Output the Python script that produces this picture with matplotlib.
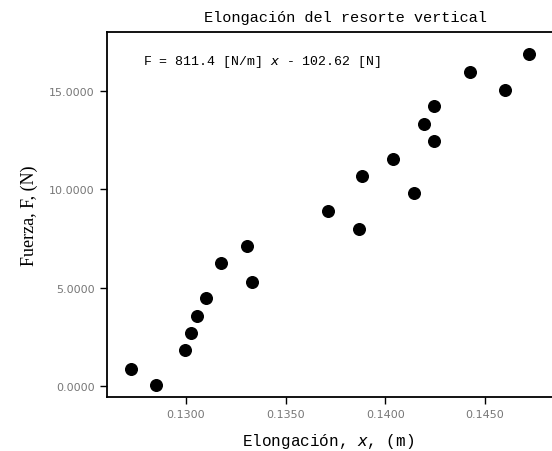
import matplotlib
matplotlib.use('Agg')
from matplotlib import pyplot as plt

# elongation x (m) and force F (N)
elongacion = [0.12726, 0.12850, 0.12997, 0.13023, 0.13053, 0.13102, 0.13177,
              0.13304, 0.13333, 0.13710, 0.13866, 0.13884, 0.14038, 0.14145,
              0.14192, 0.14244, 0.14244, 0.14424, 0.14600, 0.14722]
fuerza = [0.89, 0.07, 1.83, 2.72, 3.58, 4.48, 6.24,
          7.14, 5.31, 8.90, 7.98, 10.66, 11.55, 9.81,
          13.31, 14.21, 12.44, 15.97, 15.06, 16.88]
xticks = [0.1300, 0.1350, 0.1400, 0.1450]
yticks = [0.0, 5.0, 10.0, 15.0]

mono = 'Liberation Mono'

fig = plt.figure(figsize=(5.52, 4.52), dpi=100)
# the plot box runs past the right edge of the picture
ax = fig.add_axes([0.1938, 0.1201, 0.8623, 0.8069])

ax.scatter(elongacion, fuerza, s=70, color='black', zorder=3, clip_on=False)

ax.set_xlim(0.12604, 0.14991)
ax.set_ylim(-0.53, 17.98)
ax.set_xticks(xticks)
ax.set_xticklabels([f'{t:.4f}' for t in xticks])
ax.set_yticks(yticks)
ax.set_yticklabels([f'{t:.4f}' for t in yticks])
ax.tick_params(direction='out', length=5, width=1, labelsize=8, labelcolor='#777777',
               pad=4)
for s in ax.spines.values():
    s.set_linewidth(1.3)

ax.set_xlabel('Elongación, $x$, (m)', family=mono, fontsize=11.5)
ax.xaxis.set_label_coords(0.464, -0.093)
ax.set_ylabel('Fuerza, F, (N)', family='Liberation Serif', fontsize=13, labelpad=8)
ax.set_title('Elongación del resorte vertical', family=mono, fontsize=11, pad=8)
ax.text(0.075, 0.92, 'F = 811.4 [N/m] $x$ - 102.62 [N]', family=mono, fontsize=9.5,
        transform=ax.transAxes, va='center')

plt.savefig('out.png', dpi=100)
